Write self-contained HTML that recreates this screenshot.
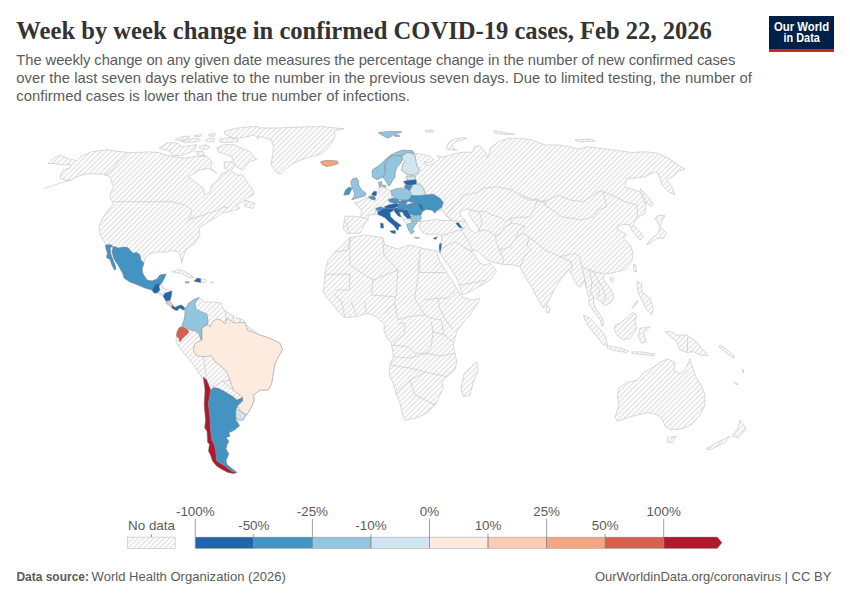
<!DOCTYPE html>
<html><head><meta charset="utf-8">
<style>
html,body{margin:0;padding:0;background:#fff;}
body{width:850px;height:600px;position:relative;overflow:hidden;font-family:"Liberation Sans",sans-serif;}
svg{position:absolute;left:0;top:0;}

</style></head><body>

<svg width="850" height="600" viewBox="0 0 850 600" font-family="Liberation Sans, sans-serif">
<defs><pattern id="h" patternUnits="userSpaceOnUse" width="3.7" height="3.7" patternTransform="rotate(45)"><rect width="3.7" height="3.7" fill="#fff"/><rect width="1.6" height="3.7" fill="#e5e5e5"/></pattern></defs>
<text x="16.3" y="38.8" style="font-family:&quot;Liberation Serif&quot;,serif" font-weight="bold" font-size="24.6" fill="#333333" textLength="695.6" lengthAdjust="spacingAndGlyphs">Week by week change in confirmed COVID-19 cases, Feb 22, 2026</text>
<text x="16.3" y="64.9" font-size="14.8" fill="#5b5b5b" textLength="719.0" lengthAdjust="spacing">The weekly change on any given date measures the percentage change in the number of new confirmed cases</text>
<text x="16.3" y="82.5" font-size="14.8" fill="#5b5b5b" textLength="735.6" lengthAdjust="spacing">over the last seven days relative to the number in the previous seven days. Due to limited testing, the number of</text>
<text x="16.3" y="100.6" font-size="14.8" fill="#5b5b5b" textLength="393.6" lengthAdjust="spacing">confirmed cases is lower than the true number of infections.</text>
<rect x="769" y="16" width="65" height="36" fill="#002147"/><rect x="769" y="49" width="65" height="3" fill="#ce261e"/>
<text x="774" y="30.6" font-size="12.2" font-weight="bold" fill="#fff" textLength="55.2" lengthAdjust="spacingAndGlyphs">Our World</text>
<text x="783.6" y="42.4" font-size="12.2" font-weight="bold" fill="#fff" textLength="36.2" lengthAdjust="spacingAndGlyphs">in Data</text>
<path d="M215.0,133.3L207.9,134.7L209.3,136.1L215.0,136.1ZM193.8,135.8L195.2,136.8L200.2,136.5L201.6,134.4ZM181.8,140.3L188.9,138.2L189.6,136.1L183.2,136.5L175.5,139.3L176.2,140.0ZM252.9,135.3L254.5,135.3L258.3,139.2L258.2,136.2L264.1,137.6L271.2,140.0L273.5,147.1L272.4,155.3L271.2,164.7L275.9,171.8L280.6,174.1L284.1,170.6L291.2,164.7L300.6,160.0L311.2,156.5L320.6,154.1L326.5,149.4L331.2,143.5L334.7,137.6L334.7,130.6L344.1,128.8L320.6,126.5L299.4,127.1L273.5,128.2L258.0,127.8L258.0,126.3L250.0,126.7L235.8,128.3L224.2,131.7L225.0,134.2L233.2,138.2L229.2,137.5L219.2,139.2L220.0,141.7L225.0,142.5L237.5,141.7L238.3,139.2L233.4,138.3L243.3,137.5ZM215.0,138.9L210.0,138.2L205.1,140.3L207.2,141.8L213.6,141.8ZM185.3,142.5L191.7,142.1L198.8,141.4L200.2,139.3L194.5,138.2L188.2,140.0L181.1,141.4ZM188.9,153.1L194.5,150.2L196.6,144.6L191.7,145.3L181.8,146.7L179.7,146.7L180.4,146.3L179.0,143.9L173.3,142.5L166.3,143.2L159.2,148.1L162.1,149.5L169.1,150.2L170.5,149.9L169.1,151.6L172.6,155.9L181.8,155.2ZM210.0,147.4L205.8,144.6L198.8,146.7L200.2,148.8L205.8,149.5ZM195.9,151.6L198.8,155.9L204.4,155.9L203.0,151.6ZM250.0,161.7L256.7,159.2L250.0,151.7L241.7,148.3L233.3,144.2L223.3,145.0L216.7,148.3L218.3,151.7L225.0,154.2L231.7,156.7L233.3,161.7L237.5,167.5L243.3,170.0L246.7,165.0ZM205.0,195.0L203.3,188.3L195.0,181.7L188.3,176.7L200.0,170.0L208.3,168.3L216.7,173.3L210.7,167.4L212.1,161.8L206.5,156.1L196.6,156.1L185.3,158.2L169.8,156.1L158.5,152.6L150.0,151.9L140.0,152.3L128.3,152.5L113.3,150.8L106.7,149.7L91.7,151.7L81.7,155.8L76.7,160.8L66.7,158.0L60.0,155.0L54.0,158.0L48.3,163.3L55.0,163.5L62.0,165.0L70.0,164.2L70.8,167.5L63.3,170.0L61.0,174.0L60.0,178.0L66.0,180.5L71.7,180.0L76.7,176.7L85.0,174.2L93.3,173.7L101.7,174.2L105.0,175.0L110.0,176.7L113.3,186.7L110.8,193.3L110.0,198.3L113.3,202.5L111.7,205.8L106.7,211.7L101.7,220.0L99.2,226.7L100.0,235.0L104.2,241.7L105.5,245.0L106.0,249.0L107.5,253.0L106.5,257.5L110.0,259.5L112.0,265.0L114.5,270.0L116.0,269.0L115.0,265.0L113.0,260.0L110.5,253.0L110.0,247.5L112.0,252.0L114.0,259.0L118.0,265.0L123.0,274.0L124.0,278.0L130.0,282.0L138.0,285.0L145.0,288.0L152.0,290.0L154.0,293.0L157.0,293.0L163.0,296.0L166.0,301.0L166.5,303.5L169.0,305.0L172.0,308.0L175.0,310.0L177.5,310.5L179.0,308.0L181.0,308.5L183.0,310.0L185.0,309.0L184.0,307.0L181.0,305.0L178.0,306.0L175.0,307.5L172.5,305.0L170.0,300.5L171.0,297.0L172.0,291.0L163.3,288.3L161.0,284.0L164.0,279.0L166.0,274.0L160.0,275.0L157.0,279.0L152.0,281.0L147.0,280.0L143.0,274.0L142.0,269.0L144.0,263.0L145.3,257.6L150.0,254.1L157.0,251.8L164.1,252.4L172.4,250.6L178.2,251.8L180.0,255.0L181.7,263.3L183.3,256.7L185.8,250.0L195.0,243.3L200.0,235.0L199.2,228.3L208.3,221.7L215.0,218.3L221.7,213.3L228.3,211.7L236.0,210.0L240.0,208.0L236.0,206.0L240.0,203.3L246.7,198.3L253.3,195.0L253.3,190.0L246.7,181.7L243.3,175.0L236.7,175.0L230.9,170.7L235.0,166.0L232.0,161.7L224.2,162.0L224.2,168.0L229.0,171.0L228.3,171.7L221.7,173.3L218.3,180.0L211.7,185.0L210.0,191.7ZM179.4,269.4L171.8,271.8L174.7,272.4L181.8,273.5L188.8,277.6L194.1,277.6L191.2,275.3L185.3,271.8ZM197.0,281.8L200.6,282.4L205.3,282.4L206.5,280.0L200.6,278.8L197.0,278.2L194.1,281.2ZM185.3,281.6L185.5,282.8L188.5,283.0L189.4,282.0ZM213.5,282.0L210.6,281.6L210.6,282.8L213.0,283.0ZM179.0,347.0L186.7,356.7L195.0,366.7L203.3,380.0L205.0,390.0L204.2,405.0L205.6,420.0L204.7,427.7L207.1,431.6L207.6,442.2L209.5,444.2L208.5,451.0L210.5,455.0L212.4,460.8L216.3,465.7L222.1,469.5L227.9,472.4L233.7,473.6L236.6,472.2L231.8,468.4L226.9,464.5L225.9,460.6L228.8,453.8L225.9,449.0L226.9,445.1L228.8,441.3L225.9,437.4L229.8,436.4L228.8,432.6L233.7,430.6L239.5,425.8L235.8,417.0L238.3,420.0L243.3,420.0L245.8,415.0L246.7,415.0L251.7,406.7L254.2,400.0L253.3,395.0L260.0,390.0L268.3,390.0L271.7,383.3L273.3,373.3L275.0,363.3L278.3,356.7L282.5,350.0L280.0,343.3L270.0,338.3L260.0,335.0L246.7,325.8L243.3,320.0L234.0,317.0L230.0,314.0L224.0,310.0L221.0,303.0L213.0,302.0L205.0,302.0L199.0,297.5L193.0,300.0L189.0,303.0L185.0,309.0L185.0,315.0L184.0,320.0L182.0,325.5L179.0,328.0L177.0,332.0L176.5,336.0L176.0,342.0ZM425.0,130.5L426.0,132.0L434.0,132.0L432.0,130.0ZM505.0,134.5L515.0,134.2L505.0,132.5L493.3,130.8L495.0,133.0ZM395.0,135.0L401.7,131.7L378.3,132.5L381.7,135.0L388.3,137.5ZM575.0,140.0L580.0,142.0L595.0,141.0L590.0,139.0ZM466.8,138.2L461.1,137.8L453.7,139.1L448.7,142.4L446.2,148.1L447.1,149.4L451.2,149.8L457.0,150.2L452.8,148.1L452.0,144.8L456.1,141.5L462.7,139.9ZM320.6,161.8L322.4,164.7L326.5,166.5L332.4,165.3L338.2,163.5L337.6,161.2L332.4,160.6L325.3,160.6ZM356.0,198.4L361.6,196.9L365.4,195.5L365.4,192.7L361.6,189.9L358.2,184.5L358.6,181.0L356.5,177.9L352.7,178.8L350.8,182.0L351.5,186.0L353.2,189.9L354.6,193.2L354.1,196.5L351.8,199.8ZM350.4,191.8L351.8,188.5L349.4,187.1L345.6,189.9L343.8,195.1L348.9,194.6ZM245.0,200.0L245.0,206.7L253.3,208.3L255.0,203.3ZM374.8,214.4L378.0,214.5L380.4,215.4L385.1,217.8L388.8,221.5L393.5,225.3L396.4,229.1L397.8,230.5L399.2,226.2L401.5,225.8L399.2,223.9L394.5,220.6L390.7,216.8L389.8,212.6L392.6,211.2L394.9,212.1L398.2,215.9L401.1,216.8L404.0,221.0L406.7,224.4L407.2,226.2L408.6,230.0L411.4,234.2L414.2,231.4L412.4,229.1L414.2,226.2L418.0,221.5L420.8,221.5L418.9,226.2L420.8,230.0L422.7,232.8L428.4,234.7L435.9,233.8L441.5,235.6L441.5,240.0L439.6,244.1L439.2,247.9L440.1,252.6L438.3,250.0L443.3,258.3L451.7,270.0L458.3,281.7L461.7,295.0L470.0,291.7L481.7,285.0L490.0,280.0L496.7,271.7L493.3,266.7L490.0,263.3L485.0,265.0L480.0,263.3L475.0,255.0L470.0,250.8L476.7,250.8L485.0,258.3L490.0,261.7L501.7,264.2L513.3,265.0L520.0,266.7L523.3,273.3L528.3,281.7L533.3,290.0L538.3,300.0L543.3,308.3L548.3,301.7L555.0,288.3L561.7,278.3L569.2,269.1L573.5,279.0L577.7,286.1L580.6,287.5L584.8,280.4L586.2,287.5L587.7,293.2L589.1,298.8L589.1,304.5L591.9,308.7L596.2,314.4L600.4,320.1L602.0,326.5L603.5,325.0L603.0,320.0L599.0,313.0L595.0,307.0L593.5,301.0L593.3,297.4L597.6,298.8L601.8,303.1L604.7,305.9L610.3,303.1L613.9,297.4L611.7,290.3L607.5,284.7L603.2,279.0L604.7,273.3L611.7,273.3L621.7,270.5L626.7,268.3L631.7,261.7L633.3,253.3L630.0,245.0L623.3,238.3L626.7,235.0L621.7,231.7L616.7,228.3L621.7,224.2L630.0,225.0L631.7,230.0L636.7,236.7L640.0,240.0L643.3,236.7L638.3,230.0L633.3,225.0L636.7,218.3L645.0,213.3L646.5,201.7L651.0,207.0L653.3,205.0L648.3,196.7L640.0,188.3L645.0,200.0L646.1,201.2L645.0,203.3L640.0,191.7L631.7,189.2L625.0,186.7L626.7,178.3L633.3,178.3L645.0,176.7L651.7,173.3L656.7,171.7L660.0,178.3L661.7,185.0L668.3,191.7L675.0,195.0L671.7,186.7L666.7,180.0L675.0,175.0L676.7,171.7L685.0,169.2L678.3,165.0L668.3,158.3L658.3,153.3L645.0,151.7L631.7,152.5L615.0,150.0L600.0,148.3L588.3,146.7L578.3,149.2L570.0,146.7L558.3,145.0L545.0,145.0L538.3,142.5L531.7,140.0L521.7,138.3L508.3,138.3L498.3,141.7L490.0,148.3L488.3,158.3L485.0,151.7L480.0,145.7L474.3,146.5L472.6,152.2L462.7,152.2L454.5,153.9L448.7,155.5L443.0,157.2L437.2,155.5L439.7,159.7L436.4,161.3L433.1,163.8L428.1,165.4L424.8,163.8L424.0,161.3L426.5,163.0L430.6,162.1L433.9,159.7L430.6,156.4L420.7,153.9L414.4,153.4L412.1,150.4L408.3,150.6L402.6,150.1L396.1,152.5L390.4,155.3L383.8,160.9L379.1,165.6L374.4,168.5L372.1,170.4L372.5,177.0L377.2,179.8L382.9,177.0L386.5,182.0L388.9,186.1L390.4,184.5L392.3,180.7L395.1,176.9L395.1,172.2L397.0,167.5L400.8,162.8L402.6,159.1L405.5,161.9L402.6,163.8L401.7,170.4L406.4,174.1L412.1,175.1L414.9,176.0L406.4,176.2L407.4,180.5L403.6,181.6L404.5,187.0L396.5,188.5L390.8,190.8L386.0,188.5L382.4,186.1L381.4,181.4L378.6,182.4L379.5,187.5L378.6,190.0L376.7,191.8L373.9,191.3L371.5,194.6L368.2,197.0L360.2,201.2L354.1,203.1L357.9,205.9L361.6,210.6L360.7,217.2L354.1,216.2L344.7,216.2L343.3,228.3L346.7,233.3L360.0,233.3L364.5,224.7L368.2,219.1L368.2,215.3ZM421.3,218.7L420.8,214.9L422.7,211.2L426.5,209.3L432.1,210.2L434.9,213.1L435.9,211.2L441.5,210.0L446.7,216.0L452.0,220.3L443.4,220.6L435.9,219.6L426.5,220.6L420.8,221.5ZM465.6,208.8L470.9,209.8L468.8,214.1L472.0,219.4L476.2,224.7L479.4,231.0L475.1,233.1L470.9,230.0L467.7,224.7L463.5,218.3L460.3,215.1L460.3,212.0ZM610.3,277.6L610.5,281.0L613.0,281.8L613.9,278.5ZM546.7,305.0L545.8,311.7L549.2,313.3L550.0,308.3ZM326.3,296.7L333.0,305.0L339.7,313.3L344.7,317.5L356.3,316.7L368.0,313.3L376.3,316.7L381.3,321.7L384.7,325.0L383.8,330.0L386.3,336.7L391.3,343.3L393.0,353.3L393.3,356.7L390.0,365.0L389.2,375.0L393.3,383.3L395.8,393.3L400.0,403.3L402.5,415.0L405.0,420.0L415.0,418.3L426.7,413.3L435.0,405.0L440.0,395.0L443.3,388.3L441.7,381.7L446.7,376.7L455.0,370.0L456.7,361.7L455.0,353.3L453.3,345.0L453.8,342.5L457.5,330.0L465.0,320.0L470.0,315.0L476.7,305.0L480.0,298.3L471.7,300.0L461.7,296.7L460.0,295.0L455.0,285.0L448.3,275.0L440.0,261.7L436.7,250.8L425.0,248.8L410.0,245.0L397.5,248.8L385.0,245.0L382.5,237.5L365.0,235.0L350.0,237.5L342.5,245.0L335.0,252.0L328.0,260.0L324.7,273.3L324.7,281.7L323.0,291.7ZM590.0,318.3L583.3,315.0L585.0,320.0L590.0,328.3L596.7,336.7L603.3,345.0L607.5,345.0L605.0,335.0L598.3,326.7ZM615.0,350.8L626.7,352.5L628.3,350.8L618.3,347.5L606.7,345.8L607.5,348.3ZM476.7,361.7L473.3,365.0L464.2,373.3L460.8,388.3L463.3,396.7L470.0,395.0L473.3,381.7L478.3,370.0ZM661.7,221.7L665.0,215.8L658.3,215.0L655.0,218.3L660.0,226.7ZM660.0,226.7L658.3,233.3L650.0,240.0L646.7,245.0L650.0,243.3L656.7,238.3L663.3,238.3L666.7,233.3ZM635.8,265.0L633.3,264.2L634.2,271.7L636.7,271.7ZM641.7,283.3L636.7,281.7L638.3,293.3L643.3,303.3L646.7,310.0L651.7,315.0L653.3,308.3L650.0,298.3L641.7,291.7ZM632.0,307.5L633.0,308.5L638.0,301.5L637.0,300.5ZM632.5,312.5L628.3,316.7L620.0,323.3L615.0,325.0L614.2,330.0L616.7,335.0L623.3,340.0L630.0,338.3L636.7,328.3L635.0,321.7L636.7,315.0ZM641.7,343.3L646.7,341.7L643.3,333.3L650.0,326.7L640.0,328.3L638.3,336.7ZM701.7,348.3L696.7,341.7L686.7,335.0L676.7,335.0L671.7,331.7L665.0,331.7L670.0,336.7L676.7,341.7L680.0,350.0L686.7,352.5L693.3,351.7L700.0,355.0L708.3,355.8ZM724.0,351.0L733.0,358.0L735.0,357.0L726.0,349.0L720.0,345.0L719.0,347.0ZM632.0,353.5L642.0,354.5L654.0,355.8L655.0,354.0L642.0,352.0L631.7,351.7ZM743.0,369.0L742.0,370.0L743.0,373.0L744.0,372.0ZM735.0,382.0L734.0,383.0L737.0,385.0L738.0,384.0ZM662.5,420.0L665.0,426.2L670.0,430.0L682.5,428.8L692.5,423.8L700.0,415.0L705.0,405.0L705.0,395.0L701.2,385.0L696.2,377.5L692.5,367.5L690.0,358.8L685.0,370.0L680.0,373.8L673.8,370.0L675.0,362.5L667.5,358.8L660.0,362.5L652.5,367.5L643.8,372.5L637.5,380.0L627.5,382.5L618.8,387.5L617.5,397.5L618.8,405.0L615.0,417.5L617.5,421.2L632.5,416.2L647.5,412.5L657.5,415.0ZM738.8,437.5L746.2,428.8L740.0,420.0L737.5,428.8L732.5,436.2ZM667.5,437.5L667.5,442.5L672.5,442.5L676.2,436.2ZM710.0,450.0L725.0,442.5L730.0,436.2L717.5,442.5L706.2,448.8Z" fill="url(#h)" fill-rule="evenodd" stroke="#c8c8c8" stroke-width="0.7" stroke-linejoin="round"/>
<g fill="none" stroke="#c8c8c8" stroke-width="0.7" stroke-linejoin="round">
<polyline points="128.3,152.5 120.0,160.0 111.0,171.0 105.0,175.0"/>
<polyline points="113.3,201.7 171.7,201.7 185.0,205.0 191.7,210.0 190.8,215.8 188.3,220.0 198.3,216.7 208.3,213.3 216.7,210.8 223.3,206.7 228.0,208.0"/>
<polyline points="71.7,180.0 60.0,183.3 44.2,188.3"/>
<polyline points="414.4,153.4 415.8,160.9 416.8,165.6 419.6,169.4 417.7,173.2 414.9,176.0"/>
<polyline points="415.8,179.8 416.5,182.0 420.0,184.2 423.3,188.3 425.8,195.0 433.3,194.2 440.0,198.3 443.4,202.7 441.5,207.4 441.5,210.0"/>
<polyline points="446.0,216.0 452.0,208.0 458.3,201.7 463.3,195.0 475.0,193.3 483.3,188.3 496.7,186.7 511.7,190.0 525.0,196.7 538.3,201.7 546.0,200.8 558.3,195.0 570.0,200.0 583.3,201.7 598.3,191.7 603.3,191.7 615.0,196.7 625.0,201.7 636.7,205.0 637.5,213.3 636.7,218.3"/>
<polyline points="546.0,200.8 545.0,205.0 561.7,216.7 581.7,220.0 593.3,216.7 598.3,210.0 606.7,206.7 603.3,191.7"/>
<polyline points="470.9,209.8 479.4,212.0 484.7,210.9 492.1,215.1 499.5,217.2 505.8,221.5 511.1,218.3 518.6,217.2 529.2,217.2 531.3,214.1 535.5,205.6 537.6,199.2"/>
<polyline points="479.4,212.0 482.0,222.0 479.4,231.0"/>
<polyline points="479.4,231.0 486.8,230.0 495.3,235.3 499.5,234.2 504.8,226.8 511.1,223.6 518.6,224.0 524.9,226.8"/>
<polyline points="511.1,218.3 511.1,223.6"/>
<polyline points="446.0,216.0 452.0,220.5 461.7,221.7 466.0,220.0"/>
<polyline points="441.5,235.6 450.0,233.0 460.0,230.0 466.0,228.0"/>
<polyline points="495.3,235.3 496.3,242.7 499.5,250.1 503.0,258.0 503.3,263.3"/>
<polyline points="499.5,250.1 510.1,246.9 516.4,237.4 518.6,230.0 524.9,226.8"/>
<polyline points="516.4,237.4 523.9,233.1 529.2,237.4 527.0,245.8 531.3,250.1 525.0,255.0 520.0,266.7"/>
<polyline points="529.2,237.4 537.6,243.7 545.0,250.1"/>
<polyline points="545.0,250.1 560.0,256.7 571.0,261.7"/>
<polyline points="461.4,230.0 467.7,239.5 473.0,251.1"/>
<polyline points="537.6,199.2 545.0,203.5"/>
<polyline points="518.6,195.0 529.2,200.3 537.6,199.2"/>
<polyline points="441.7,248.3 455.0,241.7 470.0,250.8"/>
<polyline points="460.0,285.0 472.0,283.0 486.7,280.0"/>
<polyline points="560.0,256.7 575.0,253.3 580.0,256.7 581.7,266.7 593.3,271.7 603.3,273.3"/>
<polyline points="571.0,261.7 572.0,270.0"/>
<polyline points="581.7,266.7 584.0,275.0 586.2,287.5"/>
<polyline points="589.0,270.0 592.0,282.0 590.5,292.0 593.3,297.4"/>
<polyline points="593.3,271.7 598.0,280.0 603.0,289.0 606.0,298.0 601.8,303.1"/>
<polyline points="592.0,282.0 600.0,290.0 598.0,297.0"/>
<polyline points="350.0,237.5 348.0,250.0 335.0,252.0"/>
<polyline points="349.7,265.0 350.0,250.0 350.0,237.5"/>
<polyline points="324.7,274.2 349.7,274.2 349.7,290.0 334.7,290.0"/>
<polyline points="349.7,265.0 373.0,280.0 371.3,293.3"/>
<polyline points="382.5,237.5 384.0,255.0 398.0,270.0"/>
<polyline points="373.0,280.0 398.0,270.0"/>
<polyline points="419.7,248.8 419.7,272.5 444.7,272.5"/>
<polyline points="418.0,260.0 418.0,276.7 414.7,298.3 424.7,315.0 431.3,318.3 441.3,320.0"/>
<polyline points="398.0,270.0 396.3,293.3 394.7,303.3 384.7,313.3"/>
<polyline points="371.3,295.0 394.7,296.7"/>
<polyline points="394.7,303.3 398.0,320.0 408.0,316.7 424.7,315.0"/>
<polyline points="438.0,298.3 439.7,308.3 444.7,318.3 453.0,330.0"/>
<polyline points="455.0,291.0 448.0,298.0 438.0,298.3 424.0,300.0"/>
<polyline points="333.0,293.3 341.3,301.7 344.7,316.7"/>
<polyline points="351.3,301.7 356.3,315.0"/>
<polyline points="364.7,301.7 366.3,313.3"/>
<polyline points="398.0,323.3 404.7,323.3 404.7,333.3 393.0,343.3"/>
<polyline points="431.3,321.7 433.0,331.7 431.3,346.7 426.3,353.3 414.7,353.3 408.0,346.7 391.3,345.0"/>
<polyline points="441.3,320.0 444.0,335.0 453.8,342.5"/>
<polyline points="433.0,331.7 444.0,335.0"/>
<polyline points="393.3,356.7 410.0,358.0 426.3,353.3 440.0,356.0 455.0,353.3"/>
<polyline points="390.0,365.0 410.0,368.0 426.0,372.0 446.7,376.7"/>
<polyline points="395.8,393.3 410.0,380.0 426.0,372.0"/>
<polyline points="410.0,380.0 415.0,395.0 435.0,405.0"/>
<polyline points="195.0,343.3 203.3,356.7"/>
<polyline points="203.3,356.7 205.8,373.3 206.7,380.0"/>
<polyline points="212.0,387.5 222.5,381.2 230.0,380.0"/>
<polyline points="222.5,381.2 233.3,390.0"/>
<polyline points="225.0,310.0 226.7,325.0"/>
<polyline points="233.3,315.0 233.3,323.3"/>
<polyline points="240.0,318.0 240.0,322.5"/>
<polyline points="162.5,294.2 159.0,292.0 156.7,293.3"/>
<polyline points="687.5,336.7 687.5,351.7"/>
<polyline points="360.7,217.2 368.2,219.1"/>
<polyline points="346.0,222.0 349.0,233.0"/>
<polyline points="375.8,208.2 374.8,214.4"/>
<polyline points="404.0,221.0 407.6,218.7 410.5,218.2"/>
<polyline points="411.4,221.5 418.0,221.5"/>
</g>
<g stroke="#777" stroke-width="0.4" stroke-linejoin="round">
<path d="M105.5,245.0L110.5,244.5L113.0,246.5L110.0,247.5L110.5,253.0L113.0,260.0L115.0,265.0L116.0,269.0L114.5,270.0L112.0,265.0L110.0,259.5L106.5,257.5L107.5,253.0L106.0,249.0Z" fill="#4393c3"/>
<path d="M113.0,246.5L116.0,247.0L118.0,248.0L124.0,247.0L128.0,247.5L130.0,250.0L133.0,253.0L137.0,252.5L140.0,255.0L141.0,260.0L144.0,263.0L142.0,269.0L143.0,274.0L147.0,280.0L152.0,281.0L157.0,279.0L160.0,275.0L166.0,274.0L164.0,279.0L161.0,284.0L157.0,284.0L154.0,288.0L152.0,290.0L145.0,288.0L138.0,285.0L130.0,282.0L124.0,278.0L123.0,274.0L118.0,265.0L114.0,259.0L112.0,252.0Z" fill="#4393c3"/>
<path d="M152.0,290.0L154.0,287.0L156.0,284.0L160.0,284.0L159.0,287.0L160.0,290.0L157.0,293.0L154.0,293.0Z" fill="#2166ac"/>
<path d="M165.0,293.0L172.0,291.0L171.0,297.0L170.0,300.5L166.0,301.0L163.0,296.0Z" fill="#2166ac"/>
<path d="M166.0,301.0L170.0,302.0L172.5,305.0L172.0,308.0L169.0,305.0L166.5,303.5Z" fill="#fbccb4"/>
<path d="M172.0,305.0L175.0,307.5L178.0,306.0L181.0,305.0L184.0,307.0L185.0,309.0L183.0,310.0L181.0,308.5L179.0,308.0L177.5,310.5L175.0,310.0L172.0,308.0Z" fill="#2166ac"/>
<path d="M194.1,281.2L197.0,278.2L200.6,278.8L200.6,282.4L197.0,281.8Z" fill="#2166ac"/>
<path d="M185.3,281.6L189.4,282.0L188.5,283.0L185.5,282.8Z" fill="#92c5de"/>
<path d="M185.0,309.0L189.0,303.0L193.0,300.0L199.0,297.5L195.0,303.0L196.0,309.0L201.0,311.5L207.0,314.0L208.0,320.0L208.0,324.5L203.0,327.0L202.0,330.0L202.0,340.0L200.5,339.0L199.0,334.0L195.0,331.0L190.0,330.0L185.0,327.0L182.0,325.5L184.0,320.0L185.0,315.0Z" fill="#92c5de"/>
<path d="M177.0,332.0L179.0,328.0L182.0,326.5L187.0,329.0L189.0,332.0L187.0,334.5L183.0,338.0L180.0,342.0L178.5,338.0L176.5,336.0Z" fill="#d6604d"/>
<path d="M202.0,328.0L208.0,324.5L210.0,327.0L213.0,321.0L217.0,319.0L221.0,320.0L225.0,324.0L227.0,318.0L234.0,323.0L240.0,322.5L245.0,322.5L247.5,330.0L260.0,335.0L270.0,338.3L280.0,343.3L282.5,350.0L278.3,356.7L275.0,363.3L273.3,373.3L271.7,383.3L268.3,390.0L260.0,390.0L253.3,395.0L254.2,400.0L251.7,406.7L246.7,415.0L240.0,410.8L237.5,405.8L242.5,400.8L242.5,397.5L233.3,390.0L230.0,380.0L226.7,371.7L221.7,366.7L215.0,361.7L211.7,355.8L203.3,356.7L196.7,355.8L193.3,350.0L195.0,343.3L202.0,340.0Z" fill="#fdebe0"/>
<path d="M203.3,376.7L206.7,380.0L210.8,390.0L208.3,403.3L210.0,418.3L210.5,429.7L211.9,440.3L214.3,445.1L215.8,451.0L216.3,460.6L219.2,462.6L224.0,465.5L225.9,466.4L227.9,468.4L231.8,471.3L236.6,472.6L233.7,473.6L227.9,472.4L222.1,469.5L216.3,465.7L212.4,460.8L210.5,455.0L208.5,451.0L209.5,444.2L207.6,442.2L207.1,431.6L204.7,427.7L205.6,420.0L204.2,405.0L205.0,390.0Z" fill="#b2182b"/>
<path d="M210.8,390.0L213.3,387.5L218.3,388.3L225.0,391.7L233.3,396.7L236.7,400.0L242.5,397.5L242.5,400.8L237.5,405.8L235.8,410.0L235.8,420.0L239.5,425.8L233.7,430.6L228.8,432.6L229.8,436.4L225.9,437.4L228.8,441.3L226.9,445.1L225.9,449.0L228.8,453.8L225.9,460.6L226.9,464.5L231.8,468.4L236.6,472.2L231.8,471.3L227.9,468.4L225.9,466.4L224.0,465.5L219.2,462.6L216.3,460.6L215.8,451.0L214.3,445.1L211.9,440.3L210.5,429.7L210.0,418.3L208.3,403.3Z" fill="#4393c3"/>
<path d="M235.8,409.2L240.0,410.8L245.8,415.0L243.3,420.0L238.3,420.0L235.8,416.7Z" fill="#d1e5f0"/>
<path d="M320.6,161.8L325.3,160.6L332.4,160.6L337.6,161.2L338.2,163.5L332.4,165.3L326.5,166.5L322.4,164.7Z" fill="#f4a582"/>
<path d="M378.2,132.7L388.5,131.3L401.7,131.8L396.1,133.6L393.2,134.6L389.5,137.4L386.6,137.9L382.9,135.5Z" fill="#92c5de"/>
<path d="M394.0,135.0L399.0,135.0L400.0,136.5L395.0,136.5Z" fill="#92c5de"/>
<path d="M372.1,170.4L374.4,168.5L379.1,165.6L383.8,160.9L390.4,155.3L396.1,152.5L402.6,150.1L408.3,150.6L412.1,150.4L414.4,153.4L412.1,153.4L407.4,152.5L401.7,156.2L393.2,155.3L387.6,159.1L384.8,165.6L385.2,173.2L382.9,177.0L377.2,179.8L372.5,177.0Z" fill="#92c5de"/>
<path d="M384.8,165.6L387.6,159.1L393.2,155.3L401.7,156.2L402.6,159.1L400.8,162.8L397.0,167.5L395.1,172.2L395.1,176.9L392.3,180.7L390.4,184.5L388.9,186.1L386.5,182.0L382.9,177.0L385.2,173.2Z" fill="#92c5de"/>
<path d="M401.7,156.2L407.4,152.5L412.1,153.4L414.9,155.3L415.8,160.9L416.8,165.6L419.6,169.4L417.7,173.2L412.1,175.1L406.4,174.1L401.7,170.4L402.6,163.8L405.5,161.9L402.6,159.1Z" fill="#d1e5f0"/>
<path d="M378.6,182.4L381.4,181.4L382.4,186.1L379.5,187.5Z" fill="#92c5de"/>
<path d="M383.5,185.0L386.1,185.5L385.5,187.5L383.5,187.0Z" fill="#92c5de"/>
<path d="M406.4,176.2L414.9,176.0L415.8,179.8L407.4,180.5Z" fill="#d1e5f0"/>
<path d="M403.6,181.6L407.4,180.5L415.8,179.8L416.5,182.0L416.2,184.2L411.5,185.2L405.9,184.7Z" fill="#2166ac"/>
<path d="M405.9,184.7L411.5,185.2L412.5,186.0L409.6,190.8L406.0,189.5L404.5,187.0Z" fill="#4393c3"/>
<path d="M411.5,185.2L416.2,184.2L420.0,184.2L423.3,188.3L425.8,195.0L418.3,195.8L411.5,195.5L410.6,192.0L409.6,190.8L412.5,186.0Z" fill="#d1e5f0"/>
<path d="M390.8,190.8L396.5,188.5L407.8,188.9L409.6,191.8L411.5,195.5L410.6,197.4L407.8,200.2L401.2,200.2L396.5,198.8L391.8,195.5Z" fill="#92c5de"/>
<path d="M410.6,197.4L411.5,195.5L418.3,195.8L425.8,195.0L433.3,194.2L440.0,198.3L443.4,202.7L441.5,207.4L435.9,211.2L434.9,213.1L432.1,210.2L426.5,209.3L422.7,211.2L421.8,205.5L418.0,203.6L414.0,202.8L407.8,201.2L407.8,200.2Z" fill="#4393c3"/>
<path d="M388.0,199.8L392.7,197.9L396.5,198.8L398.4,199.8L400.2,202.1L396.5,203.5L394.6,203.5L389.9,202.1Z" fill="#4393c3"/>
<path d="M398.4,202.1L400.2,202.1L401.2,200.2L407.8,200.2L407.8,201.2L405.9,204.5L399.3,204.5Z" fill="#4393c3"/>
<path d="M384.2,206.8L389.9,204.5L396.5,203.5L399.3,204.5L397.4,206.8L392.7,208.7L386.1,208.2Z" fill="#2166ac"/>
<path d="M375.8,208.2L380.5,206.8L385.2,208.2L381.4,210.1L376.7,210.6Z" fill="#4393c3"/>
<path d="M397.4,206.8L399.3,204.5L405.9,204.5L407.6,204.6L407.6,207.4L404.8,210.2L398.2,209.8Z" fill="#4393c3"/>
<path d="M407.6,204.6L414.0,202.8L418.0,203.6L421.8,205.5L422.7,211.2L420.8,214.9L414.2,215.4L409.5,214.0L406.7,209.3L407.6,207.4Z" fill="#4393c3"/>
<path d="M418.0,203.6L421.8,205.5L423.6,210.2L421.3,209.3Z" fill="#2166ac"/>
<path d="M410.5,215.9L414.2,215.4L420.8,215.4L421.3,218.7L418.0,221.5L411.4,221.5L410.5,218.2Z" fill="#92c5de"/>
<path d="M392.7,208.7L397.4,207.8L398.2,209.8L401.1,209.3L402.5,212.1L399.2,212.1L401.1,216.8L398.2,215.9L394.9,212.1L393.5,209.3Z" fill="#2166ac"/>
<path d="M401.1,209.3L404.8,210.2L406.7,209.3L409.5,214.0L410.5,215.9L410.5,218.2L407.6,218.7L403.9,214.9L402.5,212.1Z" fill="#2166ac"/>
<path d="M377.5,211.6L381.4,210.1L385.2,208.2L386.1,208.2L392.7,208.7L393.5,209.3L392.6,211.2L389.8,212.6L390.7,216.8L394.5,220.6L399.2,223.9L401.5,225.8L399.2,226.2L397.8,230.5L396.4,229.1L393.5,225.3L388.8,221.5L385.1,217.8L380.4,215.4L378.0,214.5Z" fill="#2166ac"/>
<path d="M389.8,230.9L395.4,230.5L395.4,233.8L391.6,232.8Z" fill="#2166ac"/>
<path d="M380.4,222.9L383.2,223.4L383.6,228.1L380.8,228.1Z" fill="#2166ac"/>
<path d="M406.7,224.4L411.4,222.5L417.1,222.9L414.2,226.2L412.4,229.1L414.2,231.4L411.4,234.2L408.6,230.0L407.2,226.2Z" fill="#92c5de"/>
<path d="M414.2,237.1L419.9,237.8L416.1,238.6Z" fill="#92c5de"/>
<path d="M433.1,238.5L437.3,236.6L435.9,239.4Z" fill="#2166ac"/>
<path d="M439.6,244.1L441.5,243.2L441.1,247.9L440.1,252.6L439.2,247.9Z" fill="#2166ac"/>
<path d="M352.7,178.8L356.5,177.9L358.6,181.0L358.2,184.5L361.6,189.9L365.4,192.7L365.4,195.5L361.6,196.9L356.0,198.4L351.8,199.8L354.1,196.5L354.6,193.2L353.2,189.9L351.5,186.0L350.8,182.0Z" fill="#92c5de"/>
<path d="M343.8,195.1L345.6,189.9L349.4,187.1L351.8,188.5L350.4,191.8L348.9,194.6Z" fill="#4393c3"/>
<path d="M371.5,194.6L373.9,191.3L376.7,191.8L376.2,195.5L373.9,196.0Z" fill="#2166ac"/>
<path d="M368.2,197.0L372.9,196.0L375.8,197.9L374.8,200.2L371.1,199.3Z" fill="#4393c3"/>
<path d="M455.8,223.3L458.3,222.5L462.5,228.3L459.2,227.5Z" fill="#2166ac"/>
</g>
<g>
<rect x="195.30" y="537.1" width="58.55" height="11.3" fill="#2166ac" stroke="#8a8a8a" stroke-width="0.4"/>
<rect x="253.85" y="537.1" width="58.55" height="11.3" fill="#4393c3" stroke="#8a8a8a" stroke-width="0.4"/>
<rect x="312.40" y="537.1" width="58.55" height="11.3" fill="#92c5de" stroke="#8a8a8a" stroke-width="0.4"/>
<rect x="370.95" y="537.1" width="58.55" height="11.3" fill="#d1e5f0" stroke="#8a8a8a" stroke-width="0.4"/>
<rect x="429.50" y="537.1" width="58.55" height="11.3" fill="#fdebe0" stroke="#8a8a8a" stroke-width="0.4"/>
<rect x="488.05" y="537.1" width="58.55" height="11.3" fill="#fbccb4" stroke="#8a8a8a" stroke-width="0.4"/>
<rect x="546.60" y="537.1" width="58.55" height="11.3" fill="#f4a582" stroke="#8a8a8a" stroke-width="0.4"/>
<rect x="605.15" y="537.1" width="58.55" height="11.3" fill="#d6604d" stroke="#8a8a8a" stroke-width="0.4"/>
<path d="M663.70,537.1L717.3,537.1L722,542.75L717.3,548.40L663.70,548.40Z" fill="#b2182b" stroke="#8a8a8a" stroke-width="0.4"/>
<rect x="127.5" y="537.1" width="47.7" height="11.3" fill="url(#h)" stroke="#bdbdbd" stroke-width="0.6"/>
<line x1="151.4" y1="534.3" x2="151.4" y2="537.1" stroke="#7a7a7a" stroke-width="0.8"/>
<line x1="195.30" y1="518.8" x2="195.30" y2="548.40" stroke="#8a8a8a" stroke-width="0.8"/>
<text x="195.30" y="516" text-anchor="middle" font-size="13.4" fill="#5b5b5b">-100%</text>
<line x1="312.40" y1="518.8" x2="312.40" y2="548.40" stroke="#8a8a8a" stroke-width="0.8"/>
<text x="312.40" y="516" text-anchor="middle" font-size="13.4" fill="#5b5b5b">-25%</text>
<line x1="429.50" y1="518.8" x2="429.50" y2="548.40" stroke="#8a8a8a" stroke-width="0.8"/>
<text x="429.50" y="516" text-anchor="middle" font-size="13.4" fill="#5b5b5b">0%</text>
<line x1="546.60" y1="518.8" x2="546.60" y2="548.40" stroke="#8a8a8a" stroke-width="0.8"/>
<text x="546.60" y="516" text-anchor="middle" font-size="13.4" fill="#5b5b5b">25%</text>
<line x1="663.70" y1="518.8" x2="663.70" y2="548.40" stroke="#8a8a8a" stroke-width="0.8"/>
<text x="663.70" y="516" text-anchor="middle" font-size="13.4" fill="#5b5b5b">100%</text>
<line x1="253.85" y1="533.9" x2="253.85" y2="548.40" stroke="#8a8a8a" stroke-width="0.8"/>
<text x="253.85" y="530.1" text-anchor="middle" font-size="13.4" fill="#5b5b5b">-50%</text>
<line x1="370.95" y1="533.9" x2="370.95" y2="548.40" stroke="#8a8a8a" stroke-width="0.8"/>
<text x="370.95" y="530.1" text-anchor="middle" font-size="13.4" fill="#5b5b5b">-10%</text>
<line x1="488.05" y1="533.9" x2="488.05" y2="548.40" stroke="#8a8a8a" stroke-width="0.8"/>
<text x="488.05" y="530.1" text-anchor="middle" font-size="13.4" fill="#5b5b5b">10%</text>
<line x1="605.15" y1="533.9" x2="605.15" y2="548.40" stroke="#8a8a8a" stroke-width="0.8"/>
<text x="605.15" y="530.1" text-anchor="middle" font-size="13.4" fill="#5b5b5b">50%</text>
<text x="151.5" y="530.1" text-anchor="middle" font-size="13.4" fill="#5b5b5b">No data</text>
</g>
<text x="16.4" y="580.7" font-size="13" font-weight="bold" fill="#5b5b5b" textLength="72.6" lengthAdjust="spacingAndGlyphs">Data source:</text>
<text x="91.6" y="580.7" font-size="13" fill="#5b5b5b" textLength="194.2" lengthAdjust="spacing">World Health Organization (2026)</text>
<text x="594.9" y="580.6" font-size="13" fill="#5b5b5b" textLength="236.4" lengthAdjust="spacing">OurWorldinData.org/coronavirus | CC BY</text>
</svg>
</body></html>
